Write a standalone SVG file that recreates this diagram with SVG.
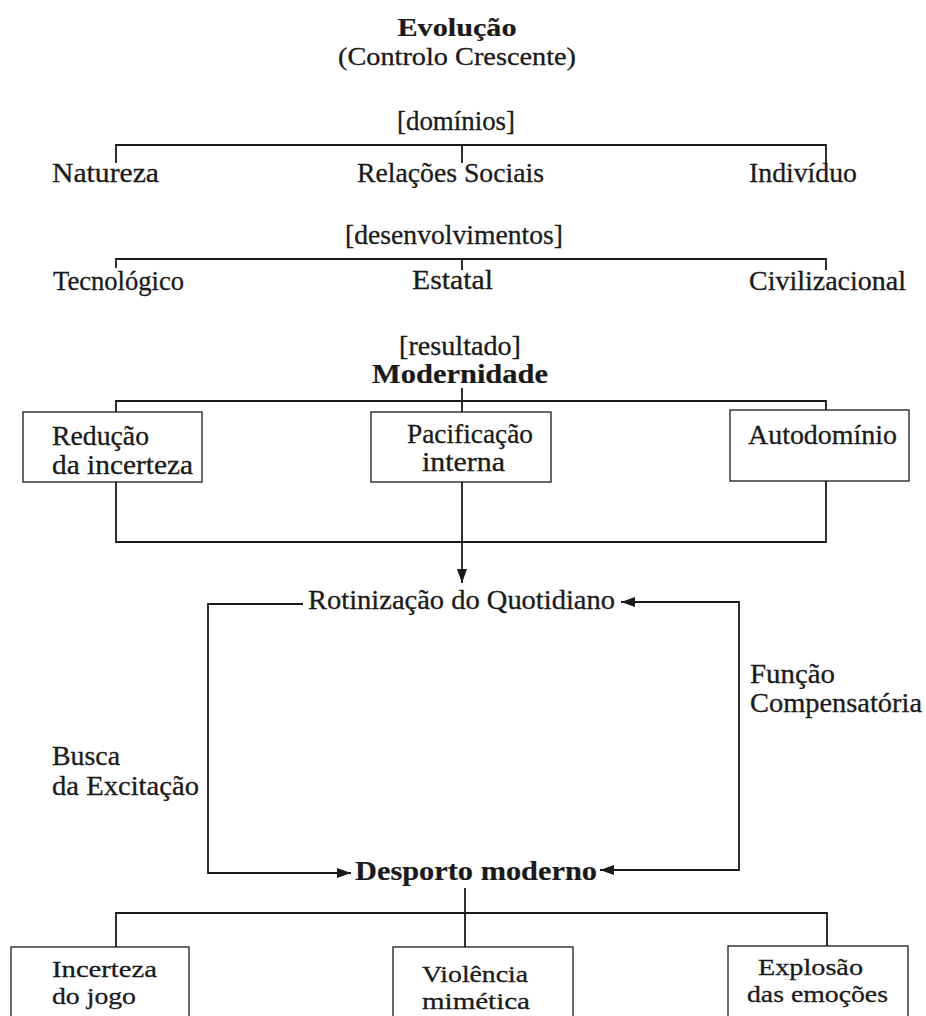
<svg xmlns="http://www.w3.org/2000/svg" width="926" height="1016" viewBox="0 0 926 1016">
<style>
  text { font-family: "Liberation Serif", "Times New Roman", serif; font-size: 27px; fill: #1a1a1a; stroke: #1a1a1a; stroke-width: 0.3; }
  .b { font-weight: bold; stroke-width: 0.2; }
  .m { text-anchor: middle; }
  .s { font-size: 24px; }
  .t { font-size: 25px; }
  .ln { fill: none; stroke: #1a1a1a; stroke-width: 1.8; }
  .box { fill: #fff; stroke: #2a2a2a; stroke-width: 1.4; }
</style>
<defs>
  <marker id="ah" viewBox="0 0 14 10" refX="14" refY="5" markerWidth="14" markerHeight="10" markerUnits="userSpaceOnUse" orient="auto">
    <path d="M0,0 L14,5 L0,10 z" fill="#1a1a1a"/>
  </marker>
</defs>

<!-- header -->
<g id="titulo">
  <text class="b m t" x="457" y="36" textLength="119" lengthAdjust="spacingAndGlyphs">Evolução</text>
  <text class="m t" x="457" y="65" textLength="238" lengthAdjust="spacingAndGlyphs">(Controlo Crescente)</text>
</g>

<!-- domains -->
<g id="dominios">
  <text class="m" x="456" y="130" textLength="118" lengthAdjust="spacingAndGlyphs">[domínios]</text>
</g>
<g id="natureza"><text x="52" y="182" textLength="107" lengthAdjust="spacingAndGlyphs">Natureza</text></g>
<g id="relacoes"><text x="357" y="182" textLength="187" lengthAdjust="spacingAndGlyphs">Relações Sociais</text></g>
<g id="individuo"><text x="749" y="182" textLength="108" lengthAdjust="spacingAndGlyphs">Indivíduo</text></g>

<!-- developments -->
<g id="desenvolvimentos">
  <text class="m" x="454" y="244" textLength="218" lengthAdjust="spacingAndGlyphs">[desenvolvimentos]</text>
</g>
<g id="tecnologico"><text x="53" y="290" textLength="131" lengthAdjust="spacingAndGlyphs">Tecnológico</text></g>
<g id="estatal"><text x="412" y="289" textLength="81" lengthAdjust="spacingAndGlyphs">Estatal</text></g>
<g id="civilizacional"><text x="749" y="290" textLength="157" lengthAdjust="spacingAndGlyphs">Civilizacional</text></g>

<!-- result -->
<g id="resultado">
  <text class="m" x="460" y="355" textLength="122" lengthAdjust="spacingAndGlyphs">[resultado]</text>
  <text class="b m" x="460" y="383" textLength="176" lengthAdjust="spacingAndGlyphs">Modernidade</text>
</g>

<g id="reducao">
  <rect class="box" x="23" y="412" width="179" height="70"/>
  <text x="52" y="445" textLength="97" lengthAdjust="spacingAndGlyphs">Redução</text>
  <text x="52" y="474" textLength="141" lengthAdjust="spacingAndGlyphs">da incerteza</text>
</g>
<g id="pacificacao">
  <rect class="box" x="371" y="412" width="180" height="70"/>
  <text x="407" y="443" textLength="126" lengthAdjust="spacingAndGlyphs">Pacificação</text>
  <text x="422" y="471" textLength="83" lengthAdjust="spacingAndGlyphs">interna</text>
</g>
<g id="autodominio">
  <rect class="box" x="730" y="410" width="179" height="71"/>
  <text x="748" y="444" textLength="149" lengthAdjust="spacingAndGlyphs">Autodomínio</text>
</g>

<!-- everyday routine and modern sport -->
<g id="rotinizacao">
  <text x="308" y="609" textLength="307" lengthAdjust="spacingAndGlyphs">Rotinização do Quotidiano</text>
</g>
<g id="funcao">
  <text x="750" y="683" textLength="85" lengthAdjust="spacingAndGlyphs">Função</text>
  <text x="750" y="712" textLength="172" lengthAdjust="spacingAndGlyphs">Compensatória</text>
</g>
<g id="busca">
  <text x="52" y="765" textLength="68" lengthAdjust="spacingAndGlyphs">Busca</text>
  <text x="52" y="795" textLength="147" lengthAdjust="spacingAndGlyphs">da Excitação</text>
</g>
<g id="desporto">
  <text class="b" x="355" y="880" textLength="242" lengthAdjust="spacingAndGlyphs">Desporto moderno</text>
</g>

<!-- features of modern sport -->
<g id="incerteza">
  <rect class="box" x="11" y="947" width="178" height="80"/>
  <text class="s" x="52" y="977" textLength="105" lengthAdjust="spacingAndGlyphs">Incerteza</text>
  <text class="s" x="52" y="1004" textLength="84" lengthAdjust="spacingAndGlyphs">do jogo</text>
</g>
<g id="violencia">
  <rect class="box" x="393" y="947" width="180" height="80"/>
  <text class="s" x="422" y="982" textLength="106" lengthAdjust="spacingAndGlyphs">Violência</text>
  <text class="s" x="422" y="1009" textLength="108" lengthAdjust="spacingAndGlyphs">mimética</text>
</g>
<g id="explosao">
  <rect class="box" x="728" y="946" width="180" height="80"/>
  <text class="s" x="758" y="975" textLength="105" lengthAdjust="spacingAndGlyphs">Explosão</text>
  <text class="s" x="747" y="1002" textLength="141" lengthAdjust="spacingAndGlyphs">das emoções</text>
</g>

<!-- connectors -->
<g id="conectores">
  <path class="ln" d="M116,163 V145 H826 V163 M462,145 V163"/>
  <path class="ln" d="M116,268 V259 H826 V270 M462,259 V270"/>
  <path class="ln" d="M462,388 V412 M116,412 V401 H826 V410"/>
  <path class="ln" d="M116,482 V542 H826 V481"/>
  <path class="ln" d="M462,482 V583" marker-end="url(#ah)"/>
  <path class="ln" d="M303,604 H208 V873 H351" marker-end="url(#ah)"/>
  <path class="ln" d="M739,736 V602 H621" marker-end="url(#ah)"/>
  <path class="ln" d="M739,736 V870 H600" marker-end="url(#ah)"/>
  <path class="ln" d="M465,888 V947 M116,947 V913 H827 V946"/>
</g>
</svg>
